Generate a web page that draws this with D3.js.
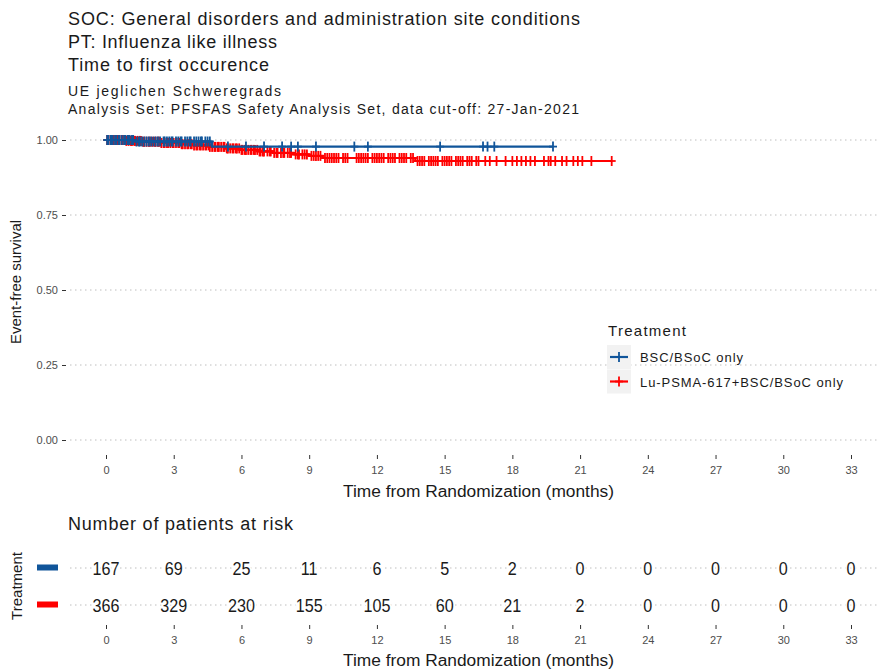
<!DOCTYPE html>
<html>
<head>
<meta charset="utf-8">
<script src="https://d3js.org/d3.v7.min.js"></script>
<style>
    body { margin: 0; background: #fff; font-family: "Liberation Sans", Arial, sans-serif; }
    svg text { fill: #1a1a1a; }
    .tick-label { fill: #4d4d4d; font-size: 11px; }
    .grid { stroke: #bebebe; stroke-width: 1; stroke-dasharray: 1.5 3.5; }
</style>
</head>
<body>
<svg id="chart" width="878" height="669"></svg>
<script>
    // titles
    var titleLines = ["SOC: General disorders and administration site conditions",
        "PT: Influenza like illness", "Time to first occurence"];
    var subtitleLines = ["UE jeglichen Schweregrads",
        "Analysis Set: PFSFAS Safety Analysis Set, data cut-off: 27-Jan-2021"];
    // rendered widths in the reference (GDI-style wide spacing)
    var titleWidths = [512, 209, 201];
    var subtitleWidths = [213, 511];

    var groups = ["BSC/BSoC only", "Lu-PSMA-617+BSC/BSoC only"];
    var groupColors = ["#10559a", "#ff0000"];

    // KM steps: [month, survival]
    var bscSteps = [[0, 1], [1.3, 0.995], [4.7, 0.978], [19.8, 0.978]];
    var luSteps = [[0, 1], [0.9, 0.997], [1.6, 0.994], [2.4, 0.99], [3.3, 0.986], [3.9, 0.982],
        [4.6, 0.977], [5.3, 0.972], [6.0, 0.967], [6.8, 0.962], [7.4, 0.957], [8.3, 0.952],
        [9.0, 0.947], [9.6, 0.94], [13.7, 0.93], [22.4, 0.93]];

    // censoring times (months)
    var bscCensor = [0.05, 0.1, 0.2, 0.25, 0.3, 0.4, 0.45, 0.55, 0.6, 0.7, 0.8, 0.85, 0.95, 1.0,
        1.05, 1.15, 1.2, 1.35, 1.45, 1.5, 1.6, 1.7, 1.8, 1.9, 2.0, 2.1, 2.2, 2.3, 2.4, 2.55, 2.6,
        2.7, 2.8, 2.9, 2.95, 3.1, 3.2, 3.3, 3.35, 3.5, 3.6, 3.7, 3.75, 3.9, 4.0, 4.1, 4.2, 4.25,
        4.4, 4.5, 4.6, 5.4, 6.2, 7.0, 7.8, 8.2, 8.5, 9.3, 11.0, 11.6, 14.8, 16.7, 16.9, 17.2, 19.8];
    var luCensor = [0.05, 0.1, 0.2, 0.3, 0.35, 0.45, 0.5, 0.6, 0.7, 0.75, 0.85, 0.9, 1.0, 1.1, 1.15,
        1.25, 1.3, 1.4, 1.5, 1.55, 1.65, 1.7, 1.8, 1.9, 1.95, 2.05, 2.15, 2.2, 2.3, 2.35, 2.45,
        2.55, 2.6, 2.7, 2.75, 2.85, 2.95, 3.0, 3.1, 3.2, 3.25, 3.35, 3.4, 3.5, 3.6, 3.65, 3.75,
        3.8, 3.9, 4.0, 4.05, 4.15, 4.2, 4.3, 4.4, 4.45, 4.55, 4.6, 4.7, 4.8, 4.85, 4.95, 5.0,
        5.1, 5.2, 5.25, 5.35, 5.4, 5.5, 5.6, 5.65, 5.75, 5.8, 5.9, 6.0, 6.05, 6.15, 6.2, 6.3,
        6.4, 6.45, 6.55, 6.6, 6.7, 6.8, 6.85, 6.95, 7.0, 7.15, 7.25, 7.3, 7.45, 7.55, 7.6, 7.75,
        7.85, 7.9, 8.05, 8.15, 8.2, 8.4, 8.5, 8.55, 8.7, 8.8, 8.9, 9.1, 9.2, 9.3, 9.4, 9.5, 9.7,
        9.8, 9.9, 10.0, 10.1, 10.2, 10.3, 10.5, 10.6, 10.7, 11.1, 11.2, 11.3, 11.4, 11.5, 11.6,
        11.8, 11.9, 12.0, 12.1, 12.2, 12.3, 12.5, 12.6, 12.7, 12.8, 13.0, 13.1, 13.2, 13.3,
        13.5, 13.6, 13.8, 13.9, 14.0, 14.1, 14.3, 14.4, 14.5, 14.6, 14.7, 14.9, 15.0, 15.1,
        15.2, 15.3, 15.5, 15.6, 15.7, 15.8, 16.0, 16.1, 16.2, 16.4, 16.5, 16.8, 17.0, 17.3,
        17.7, 18.0, 18.2, 18.4, 18.6, 18.8, 19.0, 19.4, 19.6, 19.7, 19.9, 20.2, 20.4, 20.7,
        20.9, 21.1, 21.5, 22.4];

    var xTicks = [0, 3, 6, 9, 12, 15, 18, 21, 24, 27, 30, 33];
    var yTicks = [0, 0.25, 0.5, 0.75, 1];
    var bscRisk = [167, 69, 25, 11, 6, 5, 2, 0, 0, 0, 0, 0];
    var luRisk = [366, 329, 230, 155, 105, 60, 21, 2, 0, 0, 0, 0];

    var svg = d3.select("#chart");
    var x = d3.scaleLinear().domain([0, 33]).range([106, 851]);
    var y = d3.scaleLinear().domain([0, 1]).range([440, 140]);
    var panelLeft = 70, panelRight = 878;

    // header
    svg.selectAll(".title").data(titleLines).enter().append("text")
        .attr("x", 68).attr("y", (d, i) => 24.5 + i * 23)
        .attr("font-size", 18).attr("textLength", (d, i) => titleWidths[i])
        .attr("lengthAdjust", "spacing").text(d => d);
    svg.selectAll(".subtitle").data(subtitleLines).enter().append("text")
        .attr("x", 68).attr("y", (d, i) => 96 + i * 18)
        .attr("font-size", 14).attr("textLength", (d, i) => subtitleWidths[i])
        .attr("lengthAdjust", "spacing").text(d => d);

    // grid + y axis
    svg.append("g").selectAll("line").data(yTicks).enter().append("line")
        .attr("class", "grid")
        .attr("x1", panelLeft).attr("x2", panelRight)
        .attr("y1", d => y(d)).attr("y2", d => y(d));

    var yAxis = svg.append("g").attr("transform", "translate(66,0)")
        .call(d3.axisLeft(y).tickValues(yTicks).tickFormat(d3.format(".2f")).tickSize(4).tickPadding(4));
    yAxis.select(".domain").remove();
    yAxis.selectAll("line").attr("stroke", "#333");
    yAxis.selectAll("text").attr("class", "tick-label").attr("font-family", null);

    function bottomAxis(ty) {
        var ax = svg.append("g").attr("transform", "translate(0," + ty + ")")
            .call(d3.axisBottom(x).tickValues(xTicks).tickSize(4).tickPadding(7));
        ax.select(".domain").remove();
        ax.selectAll("line").attr("stroke", "#333");
        ax.selectAll("text").attr("class", "tick-label").attr("font-family", null);
    }
    bottomAxis(455);

    svg.append("text").attr("x", x(16.5)).attr("y", 497)
        .attr("text-anchor", "middle").attr("font-size", 16)
        .attr("textLength", 271).attr("lengthAdjust", "spacingAndGlyphs")
        .text("Time from Randomization (months)");
    svg.append("text").attr("transform", "translate(21,282) rotate(-90)")
        .attr("text-anchor", "middle").attr("font-size", 15)
        .text("Event-free survival");

    // curves
    var line = d3.line().x(d => x(d[0])).y(d => y(d[1])).curve(d3.curveStepAfter);

    function survAt(steps, t) {
        var s = 1;
        steps.forEach(p => { if (p[0] <= t) s = p[1]; });
        return s;
    }

    function plus(g, cx, cy, color) {
        g.append("line").attr("x1", cx).attr("x2", cx).attr("y1", cy - 5).attr("y2", cy + 5)
            .attr("stroke", color).attr("stroke-width", 1.8);
        g.append("line").attr("x1", cx - 4).attr("x2", cx + 4).attr("y1", cy).attr("y2", cy)
            .attr("stroke", color).attr("stroke-width", 1.8);
    }

    var series = [
        { steps: luSteps, censor: luCensor, color: groupColors[1] },
        { steps: bscSteps, censor: bscCensor, color: groupColors[0] }
    ];
    series.forEach(s => {
        var g = svg.append("g");
        g.append("path").datum(s.steps).attr("d", line)
            .attr("fill", "none").attr("stroke", s.color).attr("stroke-width", 2.2);
        s.censor.forEach(t => plus(g, x(t), y(survAt(s.steps, t)), s.color));
    });

    // legend
    var lg = svg.append("g").attr("transform", "translate(607,0)");
    lg.append("text").attr("x", 1).attr("y", 336).attr("font-size", 15)
        .attr("textLength", 78).attr("lengthAdjust", "spacing").text("Treatment");
    var legendWidths = [103, 203];
    groups.forEach((name, i) => {
        var ky = 345 + i * 24.5;
        lg.append("rect").attr("x", 0).attr("y", ky).attr("width", 24).attr("height", 24)
            .attr("fill", "#f2f2f2");
        lg.append("line").attr("x1", 3).attr("x2", 21).attr("y1", ky + 12).attr("y2", ky + 12)
            .attr("stroke", groupColors[i]).attr("stroke-width", 2.2);
        plus(lg, 12, ky + 12, groupColors[i]);
        lg.append("text").attr("x", 33).attr("y", ky + 17).attr("font-size", 13)
            .attr("textLength", legendWidths[i]).attr("lengthAdjust", "spacing").text(name);
    });

    // risk table
    svg.append("text").attr("x", 68).attr("y", 530).attr("font-size", 18)
        .attr("textLength", 225).attr("lengthAdjust", "spacing")
        .text("Number of patients at risk");
    var rowY = d3.scalePoint().domain(groups).range([568, 605]);
    var riskRows = [bscRisk, luRisk];
    groups.forEach((name, i) => {
        var ry = rowY(name);
        svg.append("line").attr("class", "grid")
            .attr("x1", panelLeft).attr("x2", panelRight).attr("y1", ry).attr("y2", ry);
        svg.append("rect").attr("x", 37).attr("y", ry - 3.5).attr("width", 21).attr("height", 6)
            .attr("fill", groupColors[i]);
        svg.append("g").selectAll("text").data(riskRows[i]).enter().append("text")
            .attr("x", (d, j) => x(xTicks[j])).attr("y", ry + 7)
            .attr("text-anchor", "middle").attr("font-size", 19)
            .attr("transform", (d, j) => "translate(" + x(xTicks[j]) + "," + (ry + 7) + ") scale(0.85,1) translate(" + (-x(xTicks[j])) + "," + (-(ry + 7)) + ")")
            .attr("stroke", "#fff").attr("stroke-width", 4).attr("paint-order", "stroke")
            .text(d => d);
    });
    svg.append("text").attr("transform", "translate(22,586) rotate(-90)")
        .attr("text-anchor", "middle").attr("font-size", 15).text("Treatment");

    bottomAxis(625);
    svg.append("text").attr("x", x(16.5)).attr("y", 666)
        .attr("text-anchor", "middle").attr("font-size", 16)
        .attr("textLength", 271).attr("lengthAdjust", "spacingAndGlyphs")
        .text("Time from Randomization (months)");
</script>
</body>
</html>
